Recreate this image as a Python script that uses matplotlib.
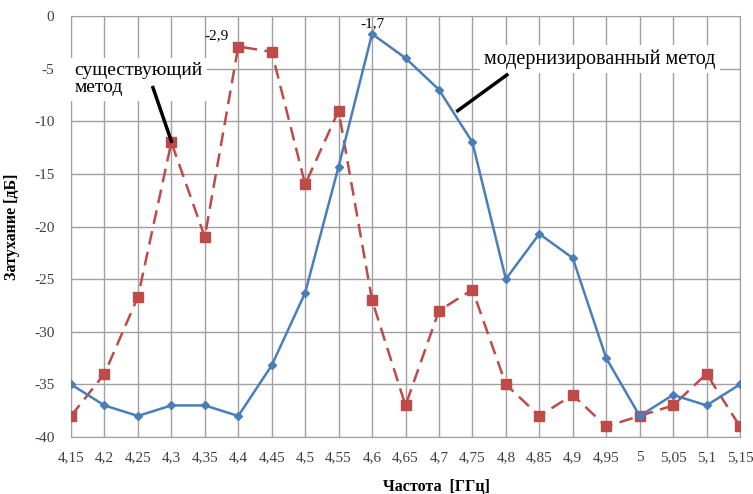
import numpy as np
import matplotlib
matplotlib.use("Agg")
import matplotlib.pyplot as plt

plt.rcParams['font.family'] = ['Liberation Serif', 'DejaVu Serif']
plt.rcParams['axes.unicode_minus'] = False

# частоты, ГГц
freq_labels = ["4,15", "4,2", "4,25", "4,3", "4,35", "4,4", "4,45", "4,5", "4,55", "4,6", "4,65",
               "4,7", "4,75", "4,8", "4,85", "4,9", "4,95", "5", "5,05", "5,1", "5,15"]
# модернизированный метод
modern = [-35, -37, -38, -37, -37, -38, -33.2, -26.3, -14.3, -1.7, -4.0,
          -7.0, -12.0, -25.0, -20.7, -23.0, -32.5, -38.0, -36.0, -37.0, -35.0]
# существующий метод
existing = [-38, -34, -26.7, -12, -21, -2.9, -3.4, -16.0, -9.0, -27.0, -37.0,
            -28.0, -26.0, -35.0, -38.0, -36.0, -39.0, -38.0, -37.0, -34.0, -39.0]
y_ticks = [0, -5, -10, -15, -20, -25, -30, -35, -40]

fig = plt.figure(figsize=(7.53, 4.94), dpi=100)
ax = fig.add_axes([71 / 753, 1 - 437 / 494, (740 - 71) / 753, (437 - 16) / 494])

x = np.arange(len(freq_labels))
ax.plot(x, modern, color='#4A7EBB', lw=1.8, marker='D', ms=4.5, zorder=4)
ax.plot(x, existing, color='#BE4B48', lw=1.8, ls=(0, (5.5, 3)), marker='s', ms=7,
        zorder=3)

ax.set_xlim(0, len(freq_labels) - 1)
ax.set_ylim(-40, 0)
ax.set_xticks(x)
ax.set_xticklabels(freq_labels)
ax.set_yticks(y_ticks)
ax.tick_params(axis='both', length=0, labelsize=11, colors='#404040', pad=10)
ax.tick_params(axis='y', pad=12)
ax.grid(True, color='#A0A0A0', lw=1)
ax.set_axisbelow(True)
for s in ax.spines.values():
    s.set_color('#A0A0A0')

ax.set_xlabel("Частота  [ГГц]", fontsize=11.5, fontweight='bold', labelpad=12)
ax.xaxis.set_label_coords(0.547, -0.1)
ax.set_ylabel("Затухание [дБ]", fontsize=11.5, fontweight='bold', labelpad=10)

# подписи значений
i4 = freq_labels.index("4,4")
ax.annotate("-2,9", (x[i4], existing[i4]), xytext=(-7, 8), textcoords='offset points',
            ha='right', va='center', fontsize=11)
i6 = freq_labels.index("4,6")
ax.annotate("-1,7", (x[i6], modern[i6]), xytext=(0, 7), textcoords='offset points',
            ha='center', va='center', fontsize=11)

# выноски
box = dict(facecolor='white', edgecolor='none', pad=3)
ax.text(0.1, -6.0, "существующий\nметод", fontsize=14, va='center',
        ha='left', linespacing=1.05, bbox=box, zorder=5)
ax.plot([2.45, 3.0], [-6.8, -11.9], color='black', lw=2.5, zorder=5)
ax.text(12.35, -4.1, "модернизированный метод", fontsize=14.5,
        va='center', ha='left', bbox=box, zorder=5)
ax.plot([13.03, 11.56], [-5.6, -9.0], color='black', lw=2.5, zorder=5)

fig.savefig("out.png", dpi=100)
